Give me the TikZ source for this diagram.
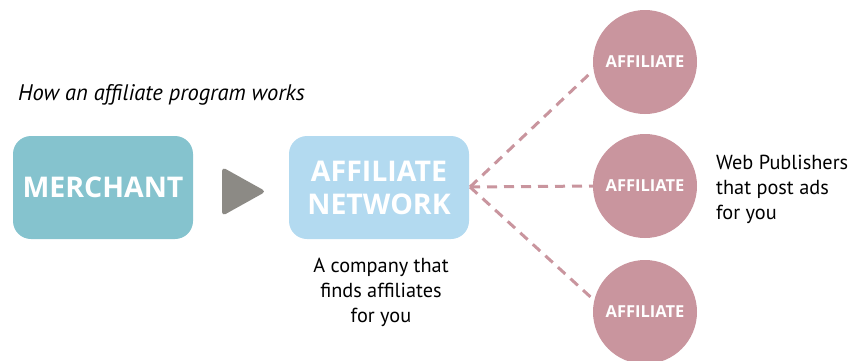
\documentclass[tikz,border=0pt]{standalone}
\usepackage{fontspec}
\setmainfont{PT Sans}
\newfontfamily\capsfont{Open Sans}
\definecolor{merch}{HTML}{85C3CE}
\definecolor{netw}{HTML}{B3DAF0}
\definecolor{affc}{HTML}{C9959E}
\definecolor{arrowc}{HTML}{8C8A85}
\tikzset{
  box/.style={rounded corners=18pt, minimum width=180pt, minimum height=103pt, inner sep=0pt, text=white, align=center, font=\capsfont\fontsize{28.5}{33}\selectfont\bfseries},
  aff/.style={circle, fill=affc, minimum size=104pt, inner sep=0pt, text=white, font=\capsfont\fontsize{16.5}{18}\selectfont\bfseries},
  dashline/.style={draw=affc, line width=3pt, dash pattern=on 10pt off 7pt},
  lbl/.style={font=\fontsize{20.3}{25}\selectfont, align=center, inner sep=0pt}
}
\begin{document}
\begin{tikzpicture}[x=1pt,y=-1pt]
\useasboundingbox (0,0) rectangle (851,360);
\node[lbl, anchor=west, font=\fontsize{22.5}{26}\selectfont\itshape] (title) at (18,95) {How an affiliate program works};
\node[box, fill=merch] (merchant) at (103,187.5) {MERCHANT};
\node[box, fill=netw] (network) at (379,187.5) {AFFILIATE\\NETWORK};
\fill[arrowc, rounded corners=4pt] (222,167) -- (266,191.5) -- (222,216) -- cycle;
\node[aff] (a1) at (645,62) {AFFILIATE};
\node[aff] (a2) at (645,186) {AFFILIATE};
\node[aff] (a3) at (645,312) {AFFILIATE};
\node[lbl] (company) at (381,292) {A company that\\finds affiliates\\for you};
\node[lbl, anchor=west, align=left] (pub) at (716,189) {Web Publishers\\that post ads\\for you};
\coordinate (hub) at (470,187);
\draw[dashline] (hub) -- (a1.189);
\draw[dashline] (hub) -- (a2.west);
\draw[dashline] (hub) -- (a3.167);
\end{tikzpicture}
\end{document}
